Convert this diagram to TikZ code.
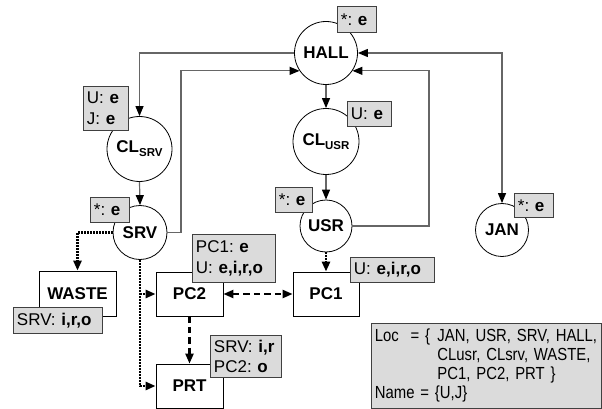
\documentclass[tikz,border=0pt]{standalone}
\usepackage{fontspec}
\setmainfont{Liberation Sans}
\newfontfamily\locfont{Liberation Sans}[FakeStretch=0.85]
\usetikzlibrary{arrows.meta,calc}
\frenchspacing
\newcommand\nodefnt{\fontsize{17}{20}\selectfont\bfseries}
\newcommand\labfnt{\frenchspacing\fontsize{17}{20.5}\selectfont}
\newcommand\subtxt[1]{\raisebox{-4pt}{\fontsize{11.5}{12}\selectfont #1}}
\tikzset{
  placenode/.style={circle, draw=black, line width=0.8pt, inner sep=0pt, minimum size=#1, font=\nodefnt},
  compbox/.style={rectangle, draw=black, line width=0.8pt, inner sep=0pt, font=\nodefnt},
  lablbox/.style={rectangle, draw=black!75, fill=black!14, line width=0.9pt, anchor=north west,
    inner xsep=3.5pt, inner ysep=0pt, align=left, font=\labfnt},
  tipb/.tip={Triangle[length=10pt,width=8pt,color=black]},
  conn/.style={draw=black!60, line width=1.2pt, -tipb},
  dotconn/.style={draw=black, line width=2.6pt, dash pattern=on 1.7pt off 1.3pt, -tipb},
  dashconn/.style={draw=black, line width=2.2pt, dash pattern=on 6.5pt off 4pt, -tipb},
}
\begin{document}
\begin{tikzpicture}[x=1pt,y=-1pt]
\useasboundingbox (0,0) rectangle (602,409);

% places
\node[placenode=63] (HALL) at (326,53) {HALL};
\node[placenode=65] (CLSRV) at (139.5,149) {CL\subtxt{SRV}};
\node[placenode=66] (CLUSR) at (326,141.5) {CL\subtxt{USR}};
\node[placenode=54] (SRV) at (140,232.5) {SRV};
\node[placenode=52] (USR) at (326,226) {USR};
\node[placenode=53] (JAN) at (502,230) {JAN};

% components
\node[compbox, minimum width=77, minimum height=45] (WASTE) at (77.5,293.5) {WASTE};
\node[compbox, minimum width=67, minimum height=44] (PC2) at (189.5,294) {PC2};
\node[compbox, minimum width=67, minimum height=44] (PRT) at (189.5,386) {PRT};
\node[compbox, minimum width=66, minimum height=44] (PC1) at (326,294) {PC1};

% helper coordinates
\coordinate (cA) at (181,0);
\coordinate (cB) at (429,0);

% solid connectors
\draw[conn] (HALL.west) -| (CLSRV.north);
\draw[conn] (SRV.east) -| (cA |- HALL.214.8) -- (HALL.214.8);
\draw[conn] (USR.east) -| (cB |- HALL.-34.8) -- (HALL.-34.8);
\draw[conn, tipb-tipb] (HALL.east) -| (JAN.north);
\draw[conn] (HALL.south) -- (CLUSR.north);
\draw[conn] (CLUSR.south) -- (USR.north);
\draw[conn] (CLSRV.south) -- (SRV.north);

% dotted connectors
\draw[dotconn] (SRV.west) -| (WASTE.north);
\draw[dotconn] (SRV.south) |- (PRT.west);
\draw[dotconn] (SRV.south |- PC2.west) -- (PC2.west);
\draw[dotconn] (USR.south) -- (PC1.north);

% dashed connectors
\draw[dashconn, tipb-tipb] (PC2.east) -- (PC1.west);
\draw[dashconn] (PC2.south) -- (PRT.north);

% labels
\node[lablbox, text width=32, minimum height=26] (lHALL) at (337,6) {*: \textbf{e}};
\node[lablbox, text width=38, minimum height=44] (lCLSRV) at (83,86) {U: \textbf{e}\\J: \textbf{e}};
\node[lablbox, text width=37, minimum height=25] (lCLUSR) at (347,101) {U: \textbf{e}};
\node[lablbox, text width=32, minimum height=25] (lSRV) at (90,197) {*: \textbf{e}};
\node[lablbox, text width=30, minimum height=25] (lUSR) at (275,187) {*: \textbf{e}};
\node[lablbox, text width=32, minimum height=24] (lJAN) at (514,193) {*: \textbf{e}};
\node[lablbox, text width=76, minimum height=48] (lPC2) at (192,234) {PC1: \textbf{e}\\U: \textbf{e,i,r,o}};
\node[lablbox, text width=77, minimum height=25] (lPC1) at (350,257) {U: \textbf{e,i,r,o}};
\node[lablbox, text width=82, minimum height=26] (lWASTE) at (13,307) {SRV: \textbf{i,r,o}};
\node[lablbox, text width=64, minimum height=42] (lPRT) at (210,335) {SRV: \textbf{i,r}\\PC2: \textbf{o}};

% legend
\node[lablbox, text width=223, minimum height=85, font={\frenchspacing\locfont\fontsize{17.5}{19}\selectfont}] (locbox) at (371,323)
  {\makebox[62.5pt][l]{Loc \ = \{}JAN, USR, SRV, HALL,\\
   \hspace*{62.5pt}CLusr, CLsrv, WASTE,\\
   \hspace*{62.5pt}PC1, PC2, PRT \}\\
   Name = \{U,J\}};
\end{tikzpicture}
\end{document}
